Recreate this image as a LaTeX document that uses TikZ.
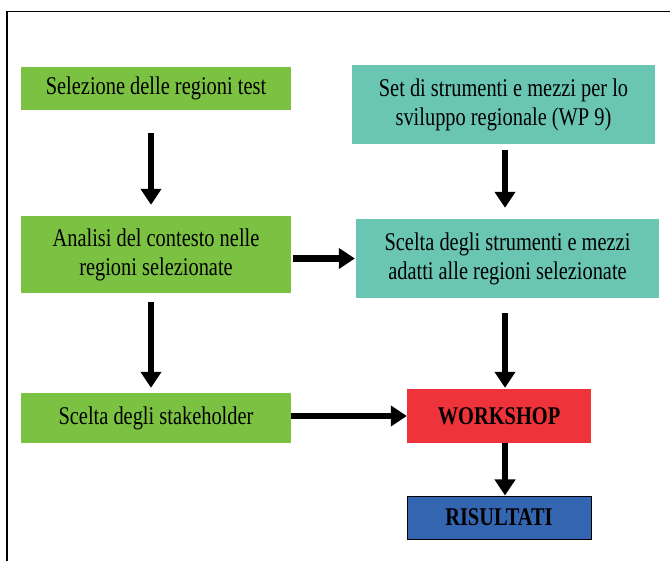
\documentclass[tikz,border=0pt]{standalone}
\usepackage{fontspec}
\setmainfont{Liberation Serif}[FakeStretch=0.8]
\usetikzlibrary{arrows.meta}
\definecolor{verde}{RGB}{123,193,66}
\definecolor{acqua}{RGB}{106,198,178}
\definecolor{rosso}{RGB}{238,51,58}
\definecolor{blu}{RGB}{52,101,176}
\tikzset{
  box/.style={inner sep=0pt,align=center,font=\fontsize{25.5}{29}\selectfont},
  freccia/.style={line width=6.5pt,-{Triangle[length=16pt,width=20pt]}}
}
\begin{document}
\begin{tikzpicture}[x=1pt,y=-1pt]
\useasboundingbox (0,0) rectangle (670,561);
\draw[line width=1.3pt](7,561)--(7,11.5)--(670,11.5);
\node[box,fill=verde,minimum width=270pt,minimum height=43pt](sel)at(156,88.5){Selezione delle regioni test};
\node[box,fill=acqua,minimum width=303pt,minimum height=79pt](set)at(503.5,104.5){Set di strumenti e mezzi per lo\\sviluppo regionale (WP 9)};
\node[box,fill=verde,minimum width=270pt,minimum height=77pt](ana)at(156,254.5){Analisi del contesto nelle\\regioni selezionate};
\node[box,fill=acqua,minimum width=303pt,minimum height=79pt](sce)at(507.5,258.5){Scelta degli strumenti e mezzi\\adatti alle regioni selezionate};
\node[box,fill=verde,minimum width=270pt,minimum height=50pt](sta)at(156,418){Scelta degli stakeholder};
\node[box,fill=rosso,minimum width=184pt,minimum height=54pt,font=\fontsize{25.5}{29}\selectfont\bfseries](wor)at(499,416){WORKSHOP};
\node[box,fill=blu,draw=black,line width=1pt,minimum width=184pt,minimum height=43pt,font=\fontsize{25.5}{29}\selectfont\bfseries](ris)at(499,517.5){RISULTATI};
\coordinate(sx)at(151,0);
\coordinate(dx)at(505,0);
\draw[freccia,shorten <=23pt,shorten >=11pt](sel.south-|sx)--(ana.north-|sx);
\draw[freccia,shorten <=9pt,shorten >=5pt](ana.south-|sx)--(sta.north-|sx);
\draw[freccia,shorten <=6pt,shorten >=11pt](set.south-|dx)--(sce.north-|dx);
\draw[freccia,shorten <=15pt,shorten >=1pt](sce.south-|dx)--(wor.north-|dx);
\draw[freccia](wor.south-|dx)--(ris.north-|dx);
\draw[freccia,shorten <=2pt,shorten >=1pt](ana.east|-sce.west)--(sce.west);
\draw[freccia](sta.east|-wor.west)--(wor.west);
\end{tikzpicture}
\end{document}
